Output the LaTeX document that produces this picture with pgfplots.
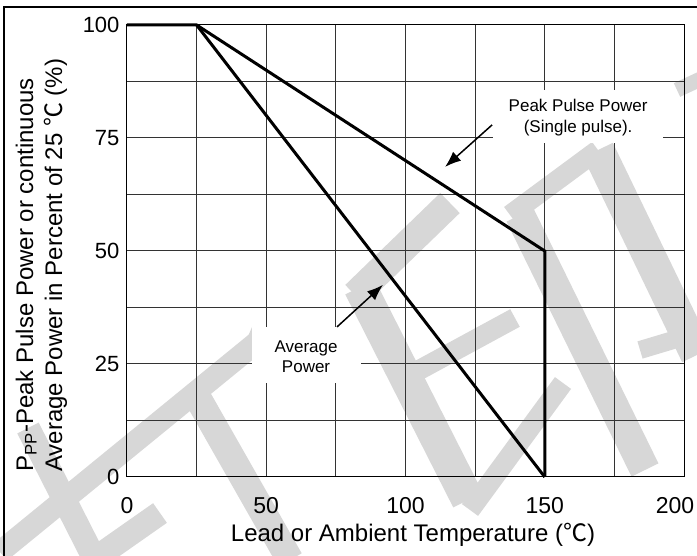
\documentclass[border=0pt]{standalone}
\usepackage{fontspec}
\setmainfont{Liberation Sans}
\newfontfamily\cjk{Noto Sans CJK SC}
\usepackage{pgfplots}
\pgfplotsset{compat=1.18}
\usetikzlibrary{arrows.meta}
\definecolor{wm}{RGB}{215,215,215}

\begin{document}
\begin{tikzpicture}[x=1pt,y=1pt]
\path[use as bounding box] (0,0) rectangle (697,555);

% watermark strokes (behind everything)
\begin{scope}
\clip (0,0) rectangle (697,555);
\begin{scope}[wm, line cap=butt]
\draw[line width=22pt] (0,3) -- (262,217);
\fill (240,200) -- (252,228) -- (272,214) -- cycle;
\draw[line width=24pt] (28,127) -- (95,-5);
\draw[line width=24pt] (160,42) -- (93,-5);
\draw[line width=27pt] (195,162) -- (290,-5);
\draw[line width=28pt] (450,352) -- (355,260);
\draw[line width=33pt] (360,268) -- (468,55);
\draw[line width=20pt] (563,172) -- (470,45);
\draw[line width=20pt] (410,180) -- (515,237);
\draw[line width=20pt] (510,340) -- (598,405);
\draw[line width=30pt] (520,340) -- (645,85);
\draw[line width=33pt] (598,405) -- (697,200);
\draw[line width=18pt] (640,205) -- (690,220);
\draw[line width=15pt] (677,465) -- (705,478);
\end{scope}
\end{scope}

% outer frame
\draw[line width=2.5pt] (4,-5) -- (4,548) -- (705,548);

\begin{axis}[
  at={(127pt,78pt)}, anchor=south west,
  scale only axis, width=557pt, height=452pt,
  xmin=0, xmax=200, ymin=0, ymax=100,
  xtick={0,50,...,200}, ytick={0,25,...,100},
  xticklabels={0,50,100,150,{\hspace*{-18pt}200}},
  minor xtick={25,75,125,175},
  minor ytick={12.5,37.5,62.5,87.5},
  grid=both,
  major grid style={black!80, line width=1pt},
  minor grid style={black!80, line width=1pt},
  major tick length=0pt, minor tick length=0pt,
  axis line style={black, line width=1pt},
  /pgf/number format/assume math mode=true,
  xticklabel style={font=\fontsize{23}{27}\selectfont, yshift=-17pt},
  yticklabel style={font=\fontsize{22}{26}\selectfont, xshift=-4pt},
  clip=false,
]
% white label boxes
\fill[white] (axis cs:131.4,73.9) rectangle (axis cs:192.5,85.6);
\fill[white] (axis cs:44.9,20.8) rectangle (axis cs:84.0,33.2);
\node[align=center, font=\fontsize{17}{21}\selectfont] at (axis cs:162,79.6)
  {Peak Pulse Power\\(Single pulse).};
\node[align=center, font=\fontsize{17}{20}\selectfont] at (axis cs:64.3,26.6)
  {Average\\Power};
\draw[-{Latex[length=16pt,width=12pt]}, line width=1.5pt]
  (axis cs:131.1,77.9) -- (axis cs:114.2,68.6);
\draw[-{Latex[length=16pt,width=12pt]}, line width=1.5pt]
  (axis cs:75.4,33.2) -- (axis cs:91.9,42.5);

% Peak pulse power
\addplot[black, line width=3pt, line join=miter] coordinates {
  (0,100) (25,100) (150,50) (150,0)
};
% Average power
\addplot[black, line width=3pt] coordinates {
  (25,100) (150,0)
};
\end{axis}

% axis titles
\node[rotate=90, anchor=base west, inner sep=0, font=\fontsize{24}{28}\selectfont]
  at (33,83) {P\textsubscript{PP}-Peak Pulse Power or continuous};
\node[rotate=90, anchor=base west, inner sep=0, font=\fontsize{24}{28}\selectfont]
  at (62,83) {Average Power in Percent of 25 {\cjk ℃} (\%)};
\node[anchor=base, inner sep=0, font=\fontsize{24}{28}\selectfont]
  at (413,14) {Lead or Ambient Temperature ({\cjk ℃})};
\end{tikzpicture}
\end{document}
